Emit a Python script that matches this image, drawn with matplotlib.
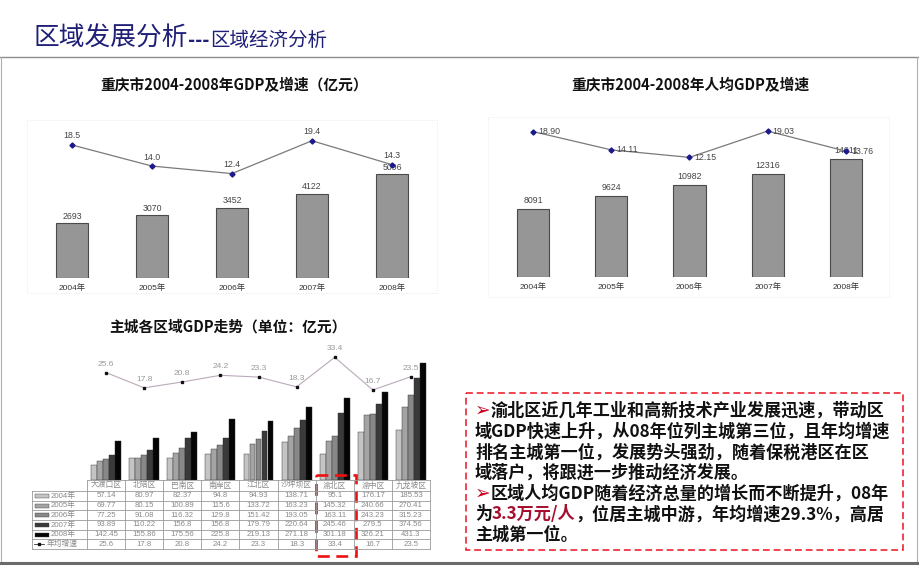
import matplotlib
matplotlib.use('Agg')
import matplotlib.pyplot as plt
from matplotlib.patches import Rectangle
import numpy as np

plt.rcParams['font.family'] = ['Noto Sans CJK SC', 'DejaVu Sans']
NUM_FONT = ['Liberation Sans', 'Noto Sans CJK SC']

W, H = 920, 577

# ---- data ----
years = ['2004年', '2005年', '2006年', '2007年', '2008年']
gdp = [2693, 3070, 3452, 4122, 5096]
gdp_growth = [18.5, 14.0, 12.4, 19.4, 14.3]
gdp_pc = [8091, 9624, 10982, 12316, 14011]
gdp_pc_growth = [18.90, 14.11, 12.15, 19.03, 13.76]

districts = ['大渡口区', '北碚区', '巴南区', '南岸区', '江北区',
             '沙坪坝区', '渝北区', '渝中区', '九龙坡区']
dist_2004 = [57.14, 80.97, 82.37, 94.8, 94.93, 138.71, 95.1, 176.17, 185.53]
dist_2005 = [69.77, 80.15, 100.89, 115.6, 133.72, 163.23, 145.32, 240.66, 270.41]
dist_2006 = [77.25, 91.08, 116.32, 129.8, 151.42, 193.05, 163.11, 243.23, 315.23]
dist_2007 = [93.89, 110.22, 156.8, 156.8, 179.79, 220.64, 245.46, 279.5, 374.56]
dist_2008 = [142.45, 155.86, 175.56, 225.8, 219.13, 271.18, 301.18, 326.21, 431.3]
dist_growth = [25.6, 17.8, 20.8, 24.2, 23.3, 18.3, 33.4, 16.7, 23.5]
dist_series = [dist_2004, dist_2005, dist_2006, dist_2007, dist_2008]
dist_colors = ['#c4c4c4', '#a4a4a4', '#888888', '#3a3a3a', '#050505']
growth_label = '年均增速'

fig = plt.figure(figsize=(W / 100, H / 100), dpi=100)


def px_axes(x0, y0, x1, y1):
    ax = fig.add_axes([x0 / W, 1 - y1 / H, (x1 - x0) / W, (y1 - y0) / H])
    ax.patch.set_alpha(0)
    for s in ax.spines.values():
        s.set_visible(False)
    return ax


def clean(ax):
    for s in ax.spines.values():
        s.set_visible(False)
    ax.set_yticks([])
    ax.patch.set_alpha(0)


# ---- chart 1: GDP ----
x = np.arange(len(years))
ax1 = px_axes(27, 120, 437, 278)
ax1.bar(x, gdp, width=0.4, color='#969696', edgecolor='#4a4a4a', linewidth=0.8)
ax1.set_xlim(-0.5625, 4.5625)
ax1.set_ylim(0, 7742)
ax1.set_yticks([])
ax1.set_xticks(x)
ax1.set_xticklabels(years, fontsize=6, family=NUM_FONT, color='#333333')
ax1.tick_params(axis='x', length=0, pad=4.5)
for xi, v in zip(x, gdp):
    ax1.annotate(str(v), (xi, v), xytext=(0, 5), textcoords='offset points',
                 ha='center', va='center', fontsize=6.3, family=NUM_FONT, color='#444444')
ax1b = ax1.twinx()
clean(ax1b)
ax1b.plot(x, gdp_growth, color='#7a7a7a', lw=0.9, marker='D', ms=2.6,
          mfc='#1a1a8c', mec='#1a1a8c')
ax1b.set_ylim(-9.86, 23.82)
for xi, v in zip(x, gdp_growth):
    ax1b.annotate(f'{v:.1f}', (xi, v), xytext=(0, 6.5), textcoords='offset points',
                  ha='center', va='center', fontsize=6.3, family=NUM_FONT, color='#444444')

# ---- chart 2: GDP per capita ----
ax2 = px_axes(488, 117, 889, 277)
ax2.bar(x, gdp_pc, width=0.41, color='#969696', edgecolor='#4a4a4a', linewidth=0.8)
ax2.set_xlim(-0.575, 4.55)
ax2.set_ylim(0, 19050)
ax2.set_yticks([])
ax2.set_xticks(x)
ax2.set_xticklabels(years, fontsize=6, family=NUM_FONT, color='#333333')
ax2.tick_params(axis='x', length=0, pad=4.5)
for xi, v in zip(x, gdp_pc):
    ax2.annotate(str(v), (xi, v), xytext=(0, 6), textcoords='offset points',
                 ha='center', va='center', fontsize=6.3, family=NUM_FONT, color='#444444')
ax2b = ax2.twinx()
clean(ax2b)
ax2b.plot(x, gdp_pc_growth, color='#7a7a7a', lw=0.9, marker='D', ms=2.6,
          mfc='#1a1a8c', mec='#1a1a8c')
ax2b.set_ylim(-19.1, 22.7)
for xi, v in zip(x, gdp_pc_growth):
    ax2b.annotate(f'{v:.2f}', (xi, v), xytext=(3.5, 0), textcoords='offset points',
                  ha='left', va='center', fontsize=6.3, family=NUM_FONT, color='#444444')

# ---- chart 3: districts ----
xd = np.arange(len(districts))
ax3 = px_axes(87, 340, 430, 480)
for k, (vals, c) in enumerate(zip(dist_series, dist_colors)):
    ax3.bar(xd + (k - 2) * 0.158, vals, width=0.155, color=c,
            edgecolor='#2a2a2a', linewidth=0.3)
ax3.set_xlim(-0.5, len(districts) - 0.5)
ax3.set_ylim(0, 516.6)
ax3.set_xticks([])
ax3.set_yticks([])
ax3b = ax3.twinx()
clean(ax3b)
ax3b.plot(xd, dist_growth, color='#bba9bb', lw=0.8, marker='s', ms=2,
          mfc='#111111', mec='#111111')
ax3b.set_ylim(-29.2, 42.2)
for xi, v in zip(xd, dist_growth):
    ax3b.annotate(f'{v:.1f}', (xi, v), xytext=(0, 6), textcoords='offset points',
                  ha='center', va='center', fontsize=6, family=NUM_FONT, color='#999999')

# ---- overlay: titles, frame, table, text box ----
bg = fig.add_axes([0, 0, 1, 1], zorder=10)
bg.set_xlim(0, W)
bg.set_ylim(H, 0)
bg.axis('off')
bg.patch.set_alpha(0)
renderer = fig.canvas.get_renderer()


def rich_line(x0, y, parts, size, weight='bold', va='center'):
    xc = x0
    for s, c, sz, wt in parts:
        t = bg.text(xc, y, s, color=c, fontsize=sz or size, fontweight=wt or weight,
                    ha='left', va=va)
        xc += t.get_window_extent(renderer).width


navy = '#1f1f78'
rich_line(34, 46, [('区域发展分析', navy, 18.5, 'medium'),
                   ('---', navy, 14, 'bold'),
                   ('区域经济分析', navy, 14, 'normal')], 14, va='baseline')

# frame
bg.plot([0, W], [57, 57], color='#8c8c8c', lw=1)
bg.plot([0.5, 0.5], [57, 562], color='#b0b0b0', lw=0.8)
bg.plot([917, 917], [57, 562], color='#b0b0b0', lw=0.8)
bg.plot([0, W], [562.5, 562.5], color='#6a6a6a', lw=2.2)

# faint dotted borders of the two upper charts
bg.add_patch(Rectangle((27, 120), 410, 173, fill=False, ec='#e6eaf2', lw=0.7, ls=':'))
bg.add_patch(Rectangle((488, 117), 401, 180, fill=False, ec='#e6eaf2', lw=0.7, ls=':'))

# chart titles
bg.text(234, 85, '重庆市2004-2008年GDP及增速（亿元）', fontsize=10.6, fontweight='bold',
        ha='center', va='center', color='#111111')
bg.text(690, 85, '重庆市2004-2008年人均GDP及增速', fontsize=10.6, fontweight='bold',
        ha='center', va='center', color='#111111')
bg.text(228, 327, '主城各区域GDP走势（单位：亿元）', fontsize=10.6, fontweight='bold',
        ha='center', va='center', color='#111111')

# data table
col_w = (430 - 87) / len(districts)
col_x = [87 + i * col_w for i in range(len(districts) + 1)]
head_top, head_bot = 480, 491
row_h = (549 - head_bot) / 6
row_y = [head_bot + r * row_h for r in range(7)]
gc = '#9a9a9a'
bg.plot([87, 430], [head_top, head_top], color=gc, lw=0.6)
for yy in row_y:
    bg.plot([32, 430], [yy, yy], color=gc, lw=0.6)
bg.plot([32, 32], [head_bot, row_y[-1]], color=gc, lw=0.6)
for xx in col_x:
    bg.plot([xx, xx], [head_top, row_y[-1]], color=gc, lw=0.6)
tc = '#8a8a8a'
for i, name in enumerate(districts):
    bg.text(col_x[i] + col_w / 2, (head_top + head_bot) / 2, name, fontsize=5.6,
            ha='center', va='center', color=tc)
rows = dist_series + [dist_growth]
row_names = years + [growth_label]
for r, (vals, nm) in enumerate(zip(rows, row_names)):
    yc = row_y[r] + row_h / 2
    for i, v in enumerate(vals):
        bg.text(col_x[i] + col_w / 2, yc, f'{v:g}', fontsize=5.6, family=NUM_FONT,
                ha='center', va='center', color=tc)
    if r < 5:
        bg.add_patch(Rectangle((35, yc - 2), 14, 4, fc=dist_colors[r], ec='#444444', lw=0.3))
        bg.text(51, yc, nm, fontsize=5.6, family=NUM_FONT, ha='left', va='center', color=tc)
    else:
        bg.plot([34, 44], [yc, yc], color='#333333', lw=0.6)
        bg.plot([39], [yc], marker='s', ms=1.8, color='#111111')
        bg.text(47, yc, nm, fontsize=5.6, ha='left', va='center', color=tc)

# highlight 渝北区 column
bg.add_patch(Rectangle((316, 475), 40, 81, fill=False, ec='#ee1111', lw=1.9,
                       ls=(0, (4.5, 2.5))))

# text box
bg.add_patch(Rectangle((466, 393), 437, 157, fill=False, ec='#ee1122', lw=1.1,
                       ls=(0, (4.5, 2.5))))
red = '#c8001e'
dark_red = '#a50f2d'
black = '#111111'
lines = [
    [('➢', red, 13.5, None), ('渝北区近几年工业和高新技术产业发展迅速，带动区', black, None, None)],
    [('域GDP快速上升，从08年位列主城第三位，且年均增速', black, None, None)],
    [('排名主城第一位，发展势头强劲，随着保税港区在区', black, None, None)],
    [('域落户，将跟进一步推动经济发展。', black, None, None)],
    [('➢', red, 13.5, None), ('区域人均GDP随着经济总量的增长而不断提升，08年', black, None, None)],
    [('为', black, None, None), ('3.3万元/人', dark_red, None, None),
     ('，位居主城中游，年均增速29.3%，高居', black, None, None)],
    [('主城第一位。', black, None, None)],
]
for k, parts in enumerate(lines):
    rich_line(475, 410.7 + k * 20.7, parts, 12.3)

fig.savefig('out.png', dpi=100)
